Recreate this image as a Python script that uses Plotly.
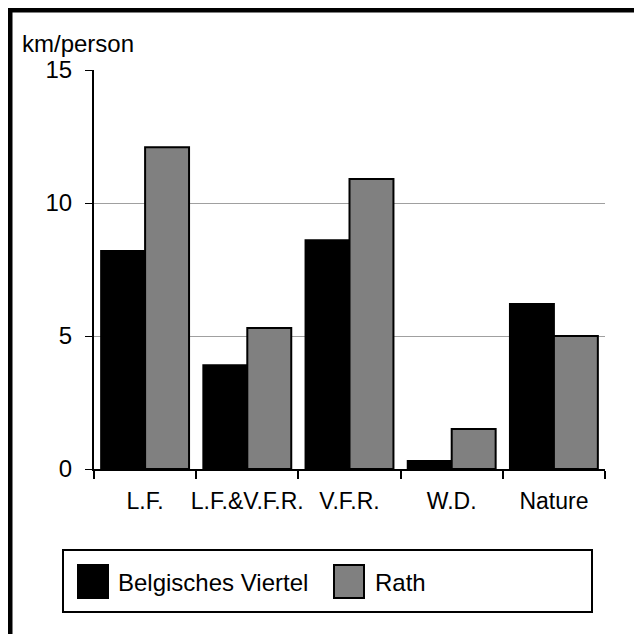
import plotly.graph_objects as go

categories = ["L.F.", "L.F.&V.F.R.", "V.F.R.", "W.D.", "Nature"]
belgisches_viertel = [8.2, 3.9, 8.6, 0.3, 6.2]
rath = [12.1, 5.3, 10.9, 1.5, 5.0]
y_ticks = [0, 5, 10, 15]
series_names = ["Belgisches Viertel", "Rath"]
series_colors = ["#000000", "#808080"]

W, H = 642, 634
L, R, T, B = 86, 45, 62, 173
pw, ph = W - L - R, H - T - B

def px(x):
    return (x - L) / pw

def py(y):
    return (H - B - y) / ph

FONT = "Liberation Sans, Arial, sans-serif"

fig = go.Figure()
for name, vals, col in zip(series_names, [belgisches_viertel, rath], series_colors):
    fig.add_trace(go.Bar(
        x=categories, y=vals, name=name,
        marker=dict(color=col, line=dict(color="#000000", width=2)),
        showlegend=False,
    ))

fig.update_layout(
    width=W, height=H,
    margin=dict(l=L, r=R, t=T, b=B, pad=0),
    paper_bgcolor="white", plot_bgcolor="white",
    barmode="group", bargap=0.14, bargroupgap=0,
    font=dict(family=FONT, size=23, color="#000000"),
    xaxis=dict(
        showline=True, linecolor="#000000", linewidth=2,
        ticks="outside", tickson="boundaries", ticklen=8, tickwidth=2, tickcolor="#000000",
        showgrid=False, tickfont=dict(size=23), ticklabelstandoff=10, tickangle=0,
    ),
    yaxis=dict(
        range=[0, 15], tickvals=y_ticks,
        showline=True, linecolor="#000000", linewidth=2,
        ticks="outside", ticklen=7, tickwidth=1, tickcolor="#000000",
        showgrid=True, gridcolor="#a0a0a0", gridwidth=1, zeroline=False,
        tickfont=dict(size=24), ticklabelstandoff=8,
    ),
)

# y-axis title
fig.add_annotation(text="km/person", xref="paper", yref="paper",
                   x=px(12), y=py(36), xanchor="left", yanchor="middle",
                   showarrow=False, font=dict(size=24))

# outer frame (top and left visible)
fig.add_shape(type="rect", xref="paper", yref="paper",
              x0=px(2), y0=py(700), x1=px(700), y1=py(2),
              line=dict(color="#000000", width=5), layer="above")

# legend box
fig.add_shape(type="rect", xref="paper", yref="paper",
              x0=px(55), y0=py(604), x1=px(584), y1=py(542),
              line=dict(color="#000000", width=2), fillcolor="white")
legend_items = [(70, 108), (326, 365)]
for (sx, tx), name, col in zip(legend_items, series_names, series_colors):
    fig.add_shape(type="rect", xref="paper", yref="paper",
                  x0=px(sx), y0=py(590), x1=px(sx + 30), y1=py(557),
                  line=dict(color="#000000", width=2), fillcolor=col)
    fig.add_annotation(text=name, xref="paper", yref="paper",
                       x=px(tx), y=py(574), xanchor="left", yanchor="middle",
                       showarrow=False, font=dict(size=24))

fig.write_html("out.html")
